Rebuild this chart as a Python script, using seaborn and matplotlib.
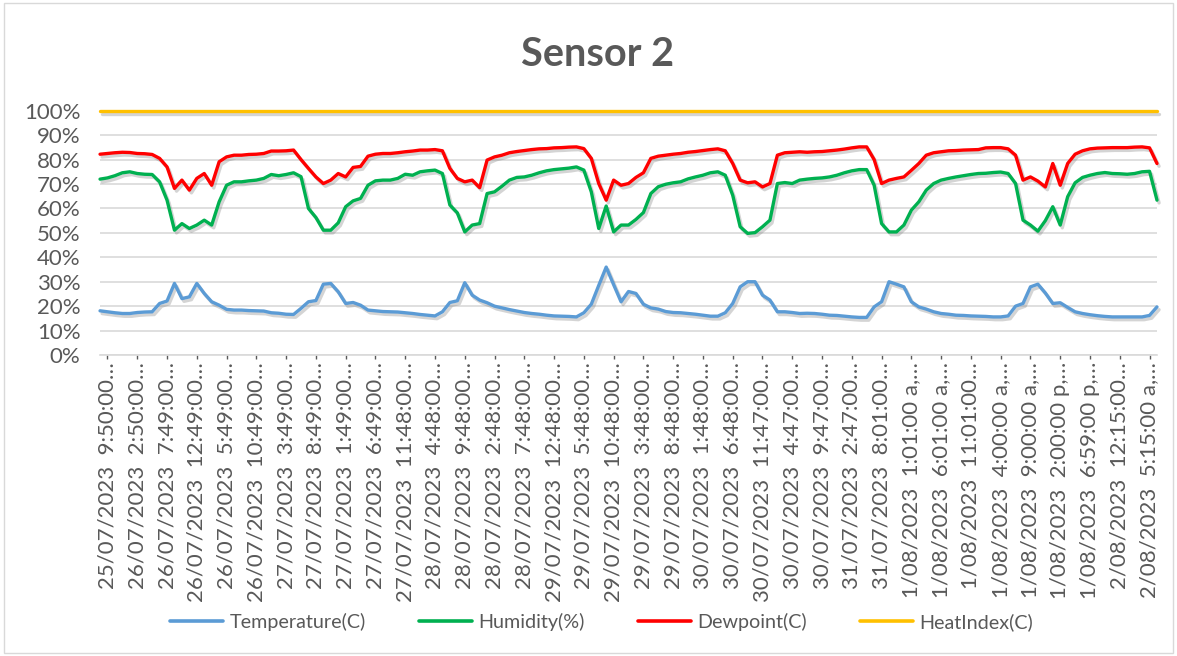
import numpy as np
import pandas as pd
import matplotlib
matplotlib.use("Agg")
import matplotlib.pyplot as plt
import matplotlib.patheffects as pe
from matplotlib.lines import Line2D
from matplotlib.patches import Rectangle
from matplotlib.ticker import PercentFormatter
import seaborn as sns

# readings as shown on the chart (percent of axis)
temperature = [
    18.1, 17.7, 17.3, 17.0, 17.0, 17.4, 17.6, 17.7, 21.1, 22.1, 29.3, 23.1,
    23.8, 29.3, 25.2, 21.8, 20.4, 18.7, 18.4, 18.4, 18.2, 18.1, 18.0, 17.3,
    17.1, 16.7, 16.6, 19.1, 21.8, 22.3, 29.0, 29.3, 25.9, 21.1, 21.5, 20.4,
    18.4, 18.1, 17.8, 17.7, 17.6, 17.3, 17.0, 16.6, 16.3, 16.0, 17.7, 21.5,
    22.2, 29.6, 24.5, 22.5, 21.4, 20.0, 19.3, 18.6, 18.0, 17.4, 17.0, 16.7,
    16.3, 16.0, 15.9, 15.8, 15.6, 17.3, 20.8, 28.5, 36.0, 28.8, 21.8, 26.0,
    25.2, 20.8, 19.3, 18.8, 17.8, 17.4, 17.3, 17.0, 16.7, 16.3, 15.9, 15.9,
    17.3, 21.1, 27.9, 30.0, 30.0, 24.5, 22.5, 17.7, 17.7, 17.4, 17.0, 17.1,
    17.0, 16.7, 16.3, 16.2, 15.9, 15.6, 15.4, 15.4, 19.7, 21.8, 30.0, 29.0,
    27.9, 21.8, 19.7, 18.8, 17.7, 17.0, 16.7, 16.3, 16.2, 16.0, 15.9, 15.8,
    15.6, 15.6, 16.0, 20.0, 21.1, 27.9, 29.0, 25.4, 21.1, 21.4, 19.5, 17.7,
    17.0, 16.5, 16.1, 15.8, 15.6, 15.6, 15.6, 15.6, 15.6, 16.2, 19.7,
]
humidity = [
    72.0, 72.5, 73.4, 74.6, 75.0, 74.3, 74.0, 73.9, 70.9, 63.4, 51.1, 53.8,
    51.8, 53.2, 55.2, 53.2, 62.7, 69.5, 70.9, 70.9, 71.3, 71.6, 72.3, 73.9,
    73.4, 73.9, 74.6, 73.0, 60.0, 56.3, 51.1, 51.1, 54.1, 60.7, 63.1, 64.1,
    69.5, 71.3, 71.6, 71.6, 72.3, 74.0, 73.6, 75.0, 75.4, 75.7, 74.3, 61.4,
    58.2, 50.4, 53.2, 53.8, 66.1, 66.8, 69.1, 71.6, 72.7, 72.9, 73.6, 74.6,
    75.4, 75.9, 76.2, 76.5, 77.0, 75.7, 66.8, 51.8, 61.0, 50.4, 53.2, 53.2,
    55.5, 58.3, 66.1, 68.9, 69.9, 70.5, 70.9, 72.1, 72.9, 73.6, 74.6, 75.0,
    73.6, 65.4, 52.5, 49.8, 50.1, 52.5, 55.2, 70.2, 70.6, 70.2, 71.6, 72.0,
    72.3, 72.5, 72.9, 73.6, 74.6, 75.4, 75.9, 75.9, 69.5, 53.8, 50.4, 50.4,
    53.2, 59.3, 62.7, 67.5, 70.2, 71.6, 72.3, 72.9, 73.4, 73.9, 74.3, 74.4,
    74.7, 74.9, 74.3, 70.2, 55.2, 53.2, 50.7, 55.0, 60.7, 53.2, 64.8, 70.5,
    72.7, 73.6, 74.3, 74.7, 74.3, 74.2, 74.0, 74.3, 75.0, 75.2, 63.4,
]
dewpoint = [
    82.2, 82.5, 82.8, 83.0, 82.9, 82.5, 82.4, 82.1, 80.5, 77.0, 68.2, 71.6,
    67.5, 72.3, 74.3, 69.5, 79.1, 81.1, 81.8, 81.8, 82.1, 82.2, 82.5, 83.5,
    83.5, 83.6, 83.9, 80.0, 76.4, 72.9, 70.2, 71.6, 74.3, 72.9, 76.8, 77.2,
    81.4, 82.2, 82.5, 82.5, 82.8, 83.2, 83.5, 83.9, 83.9, 84.1, 83.6, 76.4,
    72.3, 70.9, 71.6, 68.5, 79.8, 81.1, 81.8, 82.8, 83.3, 83.7, 84.1, 84.4,
    84.5, 84.8, 84.9, 85.1, 85.2, 84.5, 80.5, 70.2, 63.4, 71.6, 69.5, 70.2,
    72.7, 74.6, 80.5, 81.4, 81.8, 82.2, 82.5, 83.0, 83.3, 83.7, 84.1, 84.4,
    83.6, 78.4, 71.6, 70.5, 70.9, 68.8, 70.2, 81.8, 82.8, 83.0, 83.2, 83.0,
    83.2, 83.3, 83.6, 83.9, 84.3, 84.8, 85.2, 85.2, 80.0, 70.2, 71.6, 72.3,
    72.9, 75.6, 78.4, 81.8, 82.8, 83.2, 83.6, 83.7, 83.9, 84.0, 84.1, 84.8,
    84.9, 84.9, 84.4, 81.8, 71.6, 72.9, 71.2, 68.8, 78.4, 69.5, 78.4, 82.2,
    83.6, 84.4, 84.7, 84.8, 84.9, 84.9, 84.9, 85.1, 85.2, 84.8, 78.4,
]
heat_index = [100.0] * len(temperature)

tick_labels = [
    "25/07/2023  9:50:00…", "26/07/2023  2:50:00…", "26/07/2023  7:49:00…",
    "26/07/2023  12:49:00…", "26/07/2023  5:49:00…", "26/07/2023  10:49:00…",
    "27/07/2023  3:49:00…", "27/07/2023  8:49:00…", "27/07/2023  1:49:00…",
    "27/07/2023  6:49:00…", "27/07/2023  11:48:00…", "28/07/2023  4:48:00…",
    "28/07/2023  9:48:00…", "28/07/2023  2:48:00…", "28/07/2023  7:48:00…",
    "29/07/2023  12:48:00…", "29/07/2023  5:48:00…", "29/07/2023  10:48:00…",
    "29/07/2023  3:48:00…", "29/07/2023  8:48:00…", "30/07/2023  1:48:00…",
    "30/07/2023  6:48:00…", "30/07/2023  11:47:00…", "30/07/2023  4:47:00…",
    "30/07/2023  9:47:00…", "31/07/2023  2:47:00…", "31/07/2023  8:01:00…",
    "1/08/2023  1:01:00 a,…", "1/08/2023  6:01:00 a,…", "1/08/2023  11:01:00…",
    "1/08/2023  4:00:00 a,…", "1/08/2023  9:00:00 a,…", "1/08/2023  2:00:00 p,…",
    "1/08/2023  6:59:00 p,…", "2/08/2023  12:15:00…", "2/08/2023  5:15:00 a,…",
]

series_names = ["Temperature(C)", "Humidity(%)", "Dewpoint(C)", "HeatIndex(C)"]
colors = ["#5B9BD5", "#00B050", "#FF0000", "#FFC000"]
text_grey = "#595959"

df = pd.DataFrame({
    "step": np.arange(len(temperature)),
    "Temperature(C)": temperature,
    "Humidity(%)": humidity,
    "Dewpoint(C)": dewpoint,
    "HeatIndex(C)": heat_index,
})
long = df.melt(id_vars="step", var_name="series", value_name="pct")
long["value"] = long["pct"] / 100

sns.set_theme(style="white")
plt.rcParams["font.family"] = ["Lato", "DejaVu Sans"]

fig = plt.figure(figsize=(11.77, 6.56), dpi=100)
ax = fig.add_axes([0.085, 0.4588, 0.898, 0.3724])

sns.lineplot(data=long, x="step", y="value", hue="series", hue_order=series_names,
             palette=colors, linewidth=2.4, legend=False, ax=ax)

# excel style soft shadow under the lines
for line in ax.lines:
    line.set_path_effects([pe.SimpleLineShadow(offset=(1.5, -2), shadow_color="0.45", alpha=0.3),
                           pe.Normal()])
    line.set_clip_on(False)

ax.set_xlim(0, len(temperature) - 1)
ax.set_ylim(0, 1)
ax.set_yticks(np.arange(0, 1.01, 0.1))
ax.yaxis.set_major_formatter(PercentFormatter(1.0, decimals=0))
ax.set_xticks(np.arange(1, 1 + 4 * len(tick_labels), 4))
ax.set_xticklabels(tick_labels, rotation=90, ha="center", va="top")
ax.set_xlabel("")
ax.set_ylabel("")

ax.yaxis.grid(True, color="#D9D9D9", linewidth=1.2)
ax.set_axisbelow(True)
for side in ["top", "left", "right"]:
    ax.spines[side].set_visible(False)
ax.spines["bottom"].set_color("#D9D9D9")
ax.spines["bottom"].set_linewidth(1.2)

ax.tick_params(axis="y", length=0, pad=14, labelsize=16, labelcolor=text_grey)
ax.tick_params(axis="x", bottom=True, length=3, width=1, color=text_grey,
               pad=2, labelsize=16, labelcolor=text_grey)

fig.text(0.508, 1 - 54 / 656, "Sensor 2", ha="center", va="center",
         fontsize=28.5, fontweight="bold", color=text_grey)

handles = [Line2D([0], [0], color=c, lw=2.6) for c in colors]
fig.legend(handles, series_names, loc="center", bbox_to_anchor=(0.511, 1 - 622 / 656),
           ncol=4, frameon=False, fontsize=14.2, handlelength=2.7,
           columnspacing=2.7, handletextpad=0.3, labelcolor=text_grey)

fig.add_artist(Rectangle((0.003, 0.005), 0.994, 0.99, transform=fig.transFigure,
                         fill=False, edgecolor="#D9D9D9", linewidth=1))

fig.savefig("out.png", dpi=100)
